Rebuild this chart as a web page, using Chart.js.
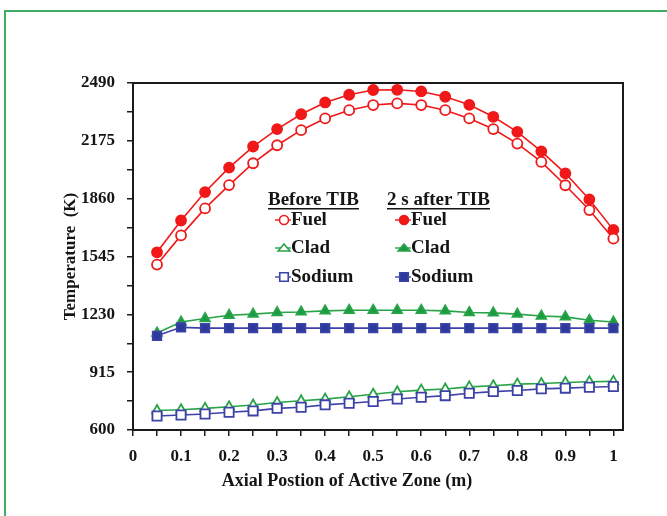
<!DOCTYPE html>
<html>
<head>
<meta charset="utf-8">
<script src="https://cdn.jsdelivr.net/npm/chart.js@4.4.1/dist/chart.umd.min.js"></script>
<style>
  html, body { margin: 0; padding: 0; background: #fff; }
  #wrap { position: relative; width: 667px; height: 516px; overflow: hidden; }
  #frame { position: absolute; left: 4px; top: 10px; right: -10px; bottom: -10px;
           border-top: 2px solid #3cad62; border-left: 2px solid #3cad62; pointer-events: none; }
  canvas { position: absolute; left: 0; top: 0; }
</style>
</head>
<body>
<div id="wrap">
  <canvas id="chart" width="667" height="516"></canvas>
  <div id="frame"></div>
</div>
<script>
// Axial positions (m)
const positions = [0.05, 0.10, 0.15, 0.20, 0.25, 0.30, 0.35, 0.40, 0.45, 0.50,
                   0.55, 0.60, 0.65, 0.70, 0.75, 0.80, 0.85, 0.90, 0.95, 1.00];

// Temperatures (K) before TIB
const fuelBefore   = [1501, 1660, 1807, 1934, 2053, 2151, 2233, 2297, 2342, 2370,
                      2379, 2370, 2342, 2297, 2239, 2160, 2060, 1933, 1798, 1642];
const cladBefore   = [706, 710, 718, 727, 736, 750, 759, 768, 781, 795,
                      808, 817, 823, 835, 841, 850, 853, 859, 863, 865];
const sodiumBefore = [676, 682, 687, 697, 704, 718, 724, 737, 746, 755,
                      769, 778, 787, 800, 809, 815, 824, 828, 833, 837];

// Temperatures (K) 2 s after TIB
const fuelAfter    = [1568, 1741, 1896, 2029, 2144, 2239, 2320, 2384, 2426, 2452,
                      2453, 2444, 2415, 2371, 2306, 2224, 2118, 1998, 1856, 1690];
const cladAfter    = [1128, 1188, 1207, 1225, 1231, 1240, 1243, 1249, 1252, 1252,
                      1252, 1252, 1249, 1240, 1238, 1231, 1221, 1216, 1198, 1188];
const sodiumAfter  = [1113, 1159, 1155, 1155, 1155, 1155, 1155, 1155, 1155, 1155,
                      1155, 1155, 1155, 1155, 1155, 1155, 1155, 1155, 1155, 1155];

// Axis ticks
const xTicks = [0, 0.05, 0.1, 0.15, 0.2, 0.25, 0.3, 0.35, 0.4, 0.45, 0.5,
                0.55, 0.6, 0.65, 0.7, 0.75, 0.8, 0.85, 0.9, 0.95, 1];
const xTickLabels = ['0', '', '0.1', '', '0.2', '', '0.3', '', '0.4', '', '0.5',
                     '', '0.6', '', '0.7', '', '0.8', '', '0.9', '', '1'];
const yTicks = [600, 757.5, 915, 1072.5, 1230, 1387.5, 1545, 1702.5, 1860,
                2017.5, 2175, 2332.5, 2490];
const yTickLabels = ['600', '', '915', '', '1230', '', '1545', '', '1860',
                     '', '2175', '', '2490'];

const xTitle = 'Axial Postion of Active Zone (m)';
const yTitle = 'Temperature  (K)';

const RED = '#f01818', GREEN = '#27a447', GREEN_DK = '#1c9a42', BLUE = '#3d42a6', BLUE_DK = '#2c3a9c';
const INK = '#151515';
const SERIF = '"Liberation Serif", "Times New Roman", serif';

const pts = arr => arr.map((v, i) => ({ x: positions[i], y: v }));

function series(label, values, color, style, filled, radius, fillColor) {
  return {
    label,
    data: pts(values),
    borderColor: color,
    borderWidth: 1.6,
    pointStyle: style,
    pointRadius: radius,
    pointBorderWidth: 1.8,
    pointBorderColor: color,
    pointBackgroundColor: filled ? (fillColor || color) : '#ffffff',
    tension: 0,
    fill: false
  };
}

// Small marker painter for the text legend
function marker(ctx, style, x, y, r, stroke, fill) {
  ctx.save();
  ctx.lineWidth = 1.6;
  ctx.strokeStyle = stroke;
  ctx.fillStyle = fill;
  ctx.beginPath();
  if (style === 'circle') {
    ctx.arc(x, y, r, 0, Math.PI * 2);
  } else if (style === 'rect') {
    const s = r * Math.SQRT1_2;
    ctx.rect(x - s, y - s, 2 * s, 2 * s);
  } else if (style === 'triangle') {
    const h = r * 1.5, w = r * 1.3;
    ctx.moveTo(x, y - h * 0.6);
    ctx.lineTo(x + w, y + h * 0.45);
    ctx.lineTo(x - w, y + h * 0.45);
    ctx.closePath();
  }
  ctx.fill();
  ctx.stroke();
  ctx.restore();
}

// Two-column text legend inside the plot, plus the x-axis caption
const legendPlugin = {
  id: 'tibLegend',
  afterDraw(chart) {
    const ctx = chart.ctx;
    ctx.save();
    ctx.fillStyle = INK;
    ctx.textBaseline = 'middle';

    ctx.font = 'bold 18px ' + SERIF;
    ctx.textAlign = 'center';
    ctx.fillText(xTitle, 347, 481);

    ctx.textAlign = 'left';
    ctx.font = 'bold 19px ' + SERIF;
    const heads = [{ text: 'Before TIB', x: 268 }, { text: '2 s after TIB', x: 387 }];
    heads.forEach(h => {
      ctx.fillText(h.text, h.x, 200);
      const w = ctx.measureText(h.text).width;
      ctx.fillRect(h.x, 208, w, 1.5);
    });

    const rows = [
      { name: 'Fuel',   y: 220, style: 'circle',   c: RED,   cf: RED,      r: 4.5 },
      { name: 'Clad',   y: 248, style: 'triangle', c: GREEN, cf: GREEN_DK, r: 4.5 },
      { name: 'Sodium', y: 277, style: 'rect',     c: BLUE,  cf: BLUE_DK,  r: 6 }
    ];
    rows.forEach(row => {
      [{ mx: 284, tx: 291, filled: false }, { mx: 404, tx: 411, filled: true }].forEach(col => {
        ctx.save();
        ctx.strokeStyle = row.c;
        ctx.lineWidth = 1.4;
        ctx.beginPath();
        ctx.moveTo(col.mx - 9, row.y);
        ctx.lineTo(col.mx + 7, row.y);
        ctx.stroke();
        ctx.restore();
        marker(ctx, row.style, col.mx, row.y, row.r, row.c, col.filled ? row.cf : '#ffffff');
        ctx.fillText(row.name, col.tx, row.y);
      });
    });
    ctx.restore();
  }
};

// Box round the plotting area
const framePlugin = {
  id: 'plotFrame',
  beforeDatasetsDraw(chart) {
    const { ctx, chartArea: a } = chart;
    ctx.save();
    ctx.strokeStyle = '#1a1a1a';
    ctx.lineWidth = 2;
    ctx.strokeRect(a.left, a.top, a.right - a.left, a.bottom - a.top);
    ctx.restore();
  }
};

new Chart(document.getElementById('chart'), {
  type: 'line',
  data: {
    datasets: [
      series('Sodium (before TIB)', sodiumBefore, BLUE, 'rect', false, 6.5),
      series('Clad (before TIB)', cladBefore, GREEN, 'triangle', false, 5.5),
      series('Sodium (2 s after TIB)', sodiumAfter, BLUE, 'rect', true, 6, BLUE_DK),
      series('Clad (2 s after TIB)', cladAfter, GREEN, 'triangle', true, 5.5, GREEN_DK),
      series('Fuel (before TIB)', fuelBefore, RED, 'circle', false, 5),
      series('Fuel (2 s after TIB)', fuelAfter, RED, 'circle', true, 5)
    ]
  },
  options: {
    responsive: false,
    animation: false,
    events: [],
    layout: { padding: { left: 50, right: 44, top: 83, bottom: 24 } },
    plugins: { legend: { display: false }, tooltip: { enabled: false } },
    scales: {
      x: {
        type: 'linear',
        min: 0,
        max: 1.02,
        afterBuildTicks: s => { s.ticks = xTicks.map(v => ({ value: v })); },
        afterFit: s => { s.height = 62; },
        ticks: {
          autoSkip: false,
          maxRotation: 0,
          padding: 10,
          color: INK,
          font: { family: SERIF, size: 17, weight: 'bold' },
          callback: (v, i) => xTickLabels[i]
        },
        grid: { drawOnChartArea: false, drawTicks: true, tickLength: 6, color: '#1a1a1a', lineWidth: 1.5 },
        border: { display: true, color: '#1a1a1a', width: 2 },
        title: { display: false }
      },
      y: {
        type: 'linear',
        min: 600,
        max: 2490,
        afterBuildTicks: s => { s.ticks = yTicks.map(v => ({ value: v })); },
        afterFit: s => { s.width = 83; },
        ticks: {
          autoSkip: false,
          padding: 12,
          color: INK,
          font: { family: SERIF, size: 17, weight: 'bold' },
          callback: (v, i) => yTickLabels[i]
        },
        grid: { drawOnChartArea: false, drawTicks: true, tickLength: 6, color: '#1a1a1a', lineWidth: 1.5 },
        border: { display: true, color: '#1a1a1a', width: 2 },
        title: {
          display: true,
          text: yTitle,
          color: INK,
          font: { family: SERIF, size: 17, weight: 'bold' },
          padding: { top: 10, bottom: 0 }
        }
      }
    }
  },
  plugins: [framePlugin, legendPlugin]
});
</script>
</body>
</html>
